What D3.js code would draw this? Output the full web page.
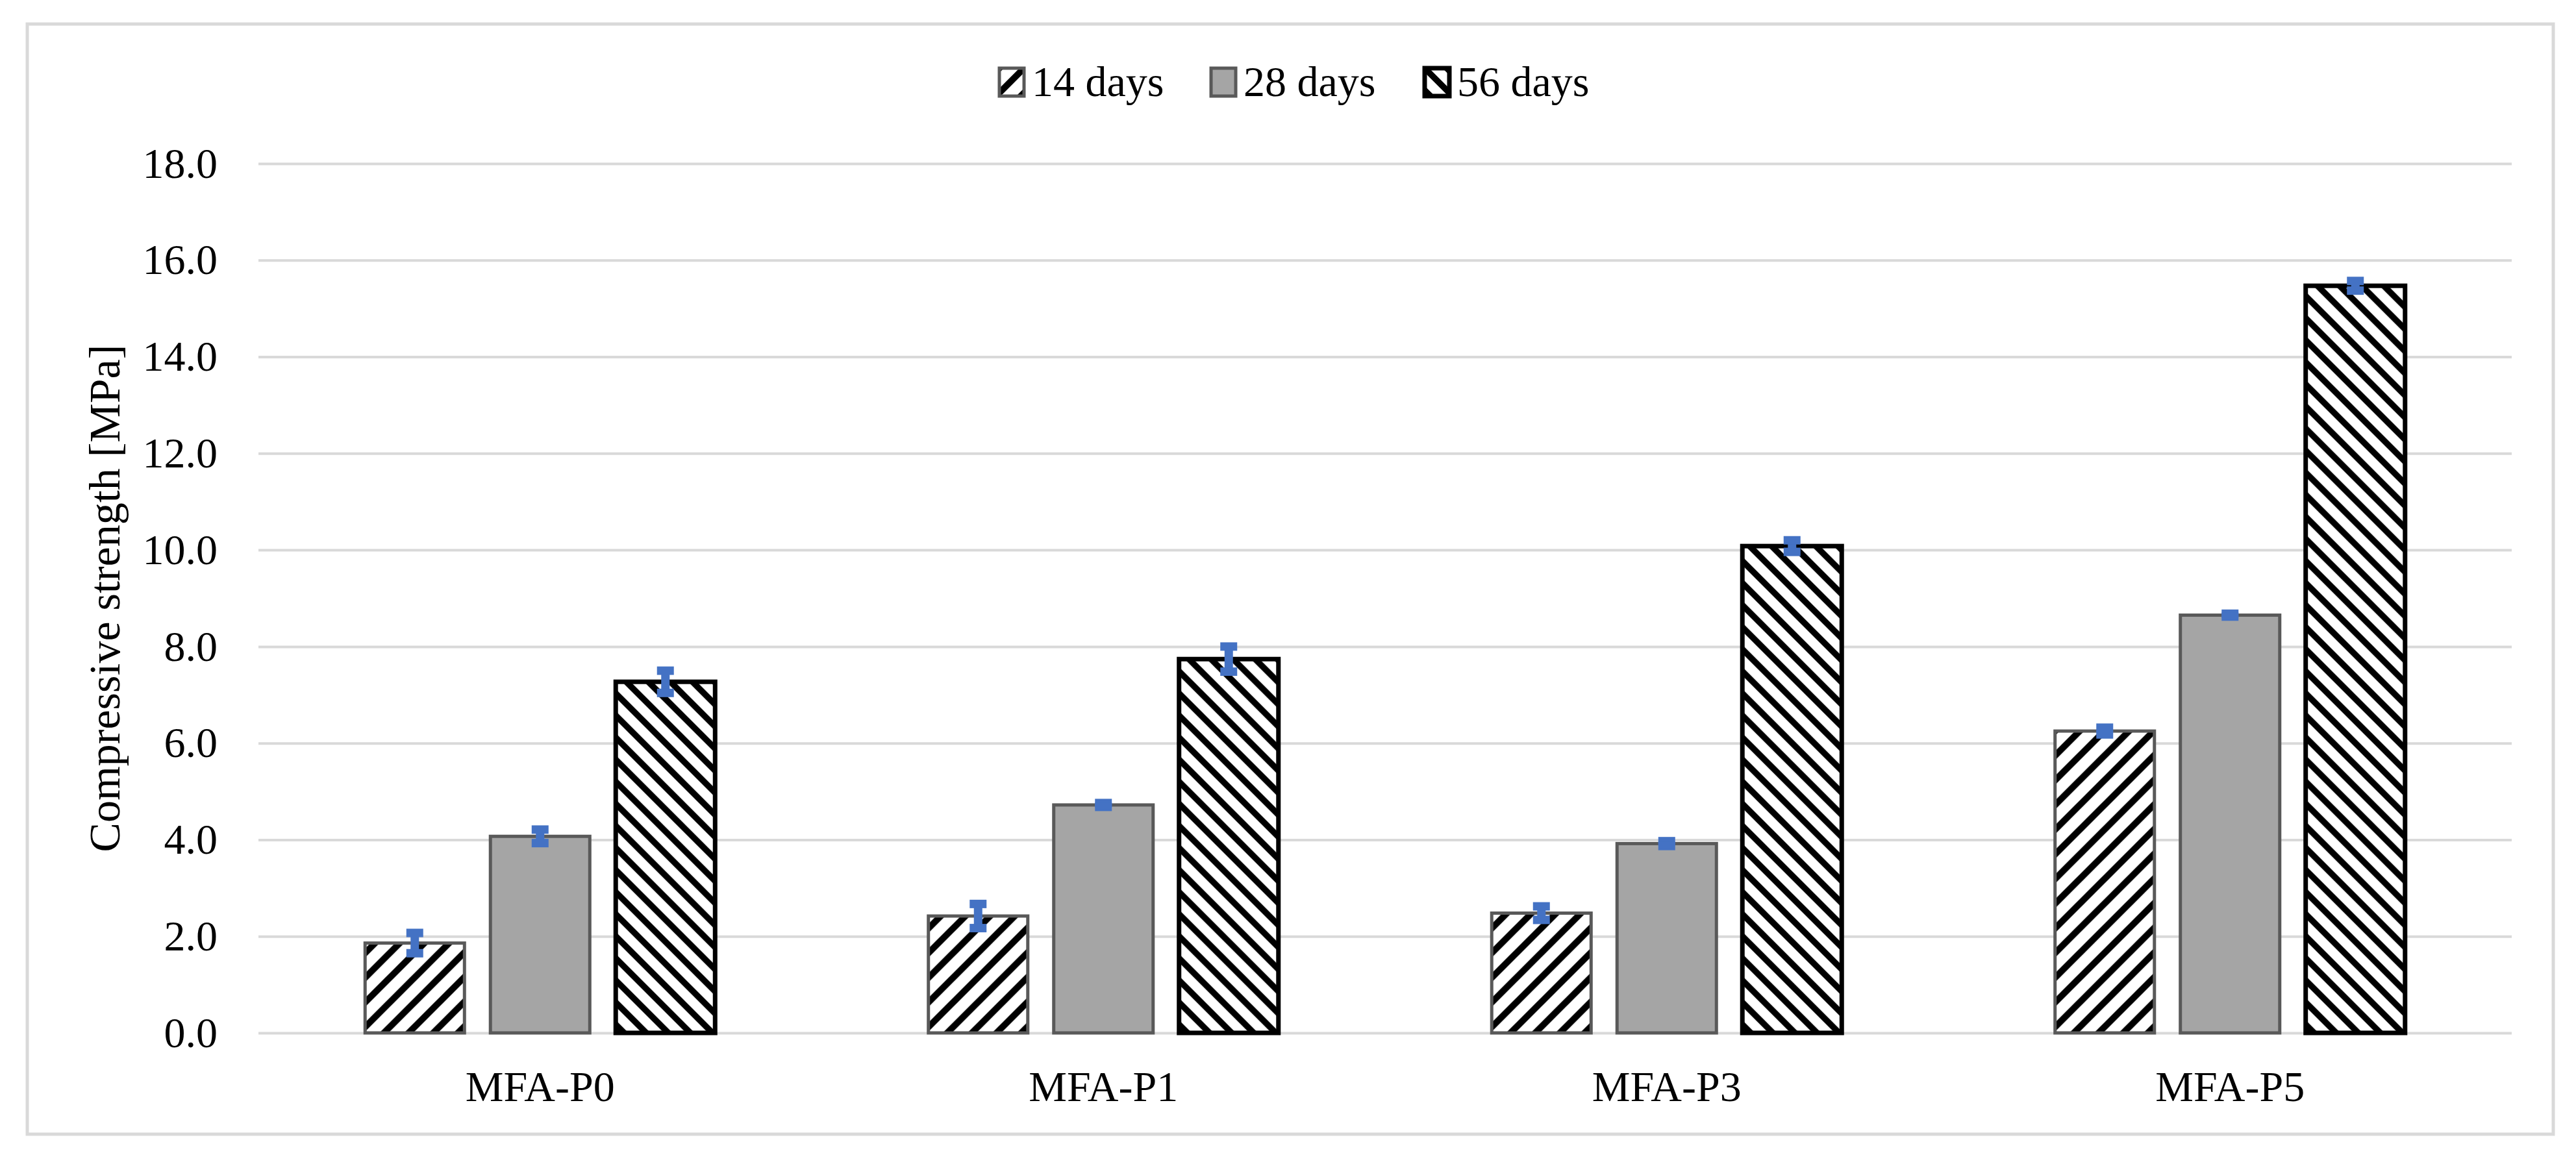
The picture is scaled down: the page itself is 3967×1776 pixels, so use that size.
<!DOCTYPE html>
<html lang="en">

<head>
  <meta charset="utf-8">
  <title>Compressive strength</title>
  <script src="https://d3js.org/d3.v7.min.js"></script>
  <style>
    body { margin: 0; background: #fff; }
    .mychart text { font-family: "Liberation Serif", "Times New Roman", serif; fill: #000; }
  </style>
</head>

<body>
  <div class="mychart" id="chart"></div>

  <script type="text/javascript">
    "use strict"

    // dados
    var categorias = ["MFA-P0", "MFA-P1", "MFA-P3", "MFA-P5"];
    var series = ["14 days", "28 days", "56 days"];
    var dias14 = [1.86, 2.42, 2.48, 6.25];
    var dias28 = [4.07, 4.72, 3.92, 8.65];
    var dias56 = [7.27, 7.74, 10.08, 15.47];
    var erro14 = [0.21, 0.25, 0.14, 0.07];
    var erro28 = [0.14, 0.04, 0.05, 0.03];
    var erro56 = [0.23, 0.26, 0.12, 0.10];
    var ticksY = [0, 2, 4, 6, 8, 10, 12, 14, 16, 18];

    var valores = [dias14, dias28, dias56];
    var erros = [erro14, erro28, erro56];

    var larguraSVG = 3967, alturaSVG = 1776;
    var margin = {top: 252, right: 99, bottom: 185, left: 398},
        larguraVis = larguraSVG - margin.left - margin.right,
        alturaVis = alturaSVG - margin.top - margin.bottom;

    var svg = d3.select('#chart')
      .append('svg')
        .attr('width', larguraSVG)
        .attr('height', alturaSVG);

    // hachuras
    var defs = svg.append('defs');
    function hachura(id, passo, espessura, subindo) {
      var p = defs.append('pattern')
        .attr('id', id)
        .attr('patternUnits', 'userSpaceOnUse')
        .attr('width', passo)
        .attr('height', passo);
      p.append('rect').attr('width', passo).attr('height', passo).attr('fill', '#fff');
      var s = passo;
      var d = subindo
        ? 'M' + (-s) + ',' + s + ' L' + s + ',' + (-s) + ' M0,' + (2 * s) + ' L' + (2 * s) + ',0 M0,' + s + ' L' + s + ',0'
        : 'M0,0 L' + s + ',' + s + ' M' + (-s) + ',0 L' + s + ',' + (2 * s) + ' M0,' + (-s) + ' L' + (2 * s) + ',' + s;
      p.append('path')
        .attr('d', d)
        .attr('stroke', '#000')
        .attr('stroke-width', espessura);
    }
    hachura('h14', 38, 10, true);
    hachura('h56', 34, 9.5, false);

    var estilos = [
      {fill: 'url(#h14)', stroke: '#595959', sw: 5},
      {fill: '#a5a5a5', stroke: '#595959', sw: 5},
      {fill: 'url(#h56)', stroke: '#000', sw: 7}
    ];

    // moldura
    svg.append('rect')
      .attr('x', 42).attr('y', 37)
      .attr('width', 3890).attr('height', 1710)
      .attr('fill', '#fff')
      .attr('stroke', '#d9d9d9')
      .attr('stroke-width', 5);

    var grafico = svg.append('g')
      .attr('class', 'mychart')
      .attr('transform', 'translate(' + margin.left + ',' + margin.top + ')');

    var x0 = d3.scaleBand()
      .domain(categorias)
      .range([0, larguraVis]);

    var x1 = d3.scaleBand()
      .domain(series)
      .range([0, x0.bandwidth()])
      .paddingInner(0.207)
      .paddingOuter(0.851);

    var y = d3.scaleLinear()
      .domain([0, 18])
      .range([alturaVis, 0]);

    // linhas de grade
    grafico.append('g')
      .call(d3.axisLeft(y).tickValues(ticksY).tickSize(-larguraVis).tickFormat(''))
      .call(g => g.select('.domain').remove())
      .call(g => g.selectAll('line').attr('stroke', '#d9d9d9').attr('stroke-width', 4));

    // rotulos do eixo y
    grafico.append('g')
      .call(d3.axisLeft(y).tickValues(ticksY).tickSize(0).tickPadding(63).tickFormat(d3.format('.1f')))
      .call(g => g.select('.domain').remove())
      .call(g => g.selectAll('text')
        .attr('font-family', '"Liberation Serif", serif')
        .attr('font-size', 66)
        .attr('fill', '#000'));

    // rotulos do eixo x
    grafico.append('g')
      .attr('transform', 'translate(0,' + alturaVis + ')')
      .call(d3.axisBottom(x0).tickSize(0).tickPadding(58))
      .call(g => g.select('.domain').remove())
      .call(g => g.selectAll('text')
        .attr('font-family', '"Liberation Serif", serif')
        .attr('font-size', 66)
        .attr('fill', '#000'));

    // barras
    var dados = [];
    categorias.forEach(function (c, i) {
      series.forEach(function (s, j) {
        dados.push({cat: c, serie: s, j: j, v: valores[j][i], e: erros[j][i]});
      });
    });

    var grupos = grafico.selectAll('.barra')
      .data(dados)
      .enter()
      .append('g')
        .attr('class', 'barra')
        .attr('transform', d => 'translate(' + (x0(d.cat) + x1(d.serie)) + ',0)');

    grupos.append('rect')
      .attr('x', 0)
      .attr('y', d => y(d.v))
      .attr('width', x1.bandwidth())
      .attr('height', d => y(0) - y(d.v))
      .attr('fill', d => estilos[d.j].fill)
      .attr('stroke', d => estilos[d.j].stroke)
      .attr('stroke-width', d => estilos[d.j].sw);

    // barras de erro
    var meio = x1.bandwidth() / 2;
    var azul = '#4472c4';
    grupos.append('line')
      .attr('x1', meio).attr('x2', meio)
      .attr('y1', d => y(d.v + d.e)).attr('y2', d => y(d.v - d.e))
      .attr('stroke', azul).attr('stroke-width', 13);
    grupos.append('line')
      .attr('x1', meio - 13).attr('x2', meio + 13)
      .attr('y1', d => y(d.v + d.e)).attr('y2', d => y(d.v + d.e))
      .attr('stroke', azul).attr('stroke-width', 13);
    grupos.append('line')
      .attr('x1', meio - 13).attr('x2', meio + 13)
      .attr('y1', d => y(d.v - d.e)).attr('y2', d => y(d.v - d.e))
      .attr('stroke', azul).attr('stroke-width', 13);

    // titulo do eixo y
    grafico.append('text')
      .attr('transform', 'translate(' + (184 - margin.left) + ',' + (alturaVis / 2) + ') rotate(-90)')
      .attr('text-anchor', 'middle')
      .attr('font-size', 68)
      .text('Compressive strength [MPa]');

    // legenda
    var legenda = svg.append('g').attr('class', 'mychart');
    var posLegenda = [1539, 1865, 2194];
    var itens = legenda.selectAll('g')
      .data(series)
      .enter()
      .append('g')
        .attr('transform', (d, i) => 'translate(' + posLegenda[i] + ',105)');
    itens.append('rect')
      .attr('width', 38).attr('height', 43)
      .attr('fill', (d, i) => estilos[i].fill)
      .attr('stroke', (d, i) => estilos[i].stroke)
      .attr('stroke-width', (d, i) => estilos[i].sw);
    itens.append('text')
      .attr('x', 50)
      .attr('y', 43)
      .attr('font-size', 66)
      .text(d => d);
  </script>
</body>

</html>
